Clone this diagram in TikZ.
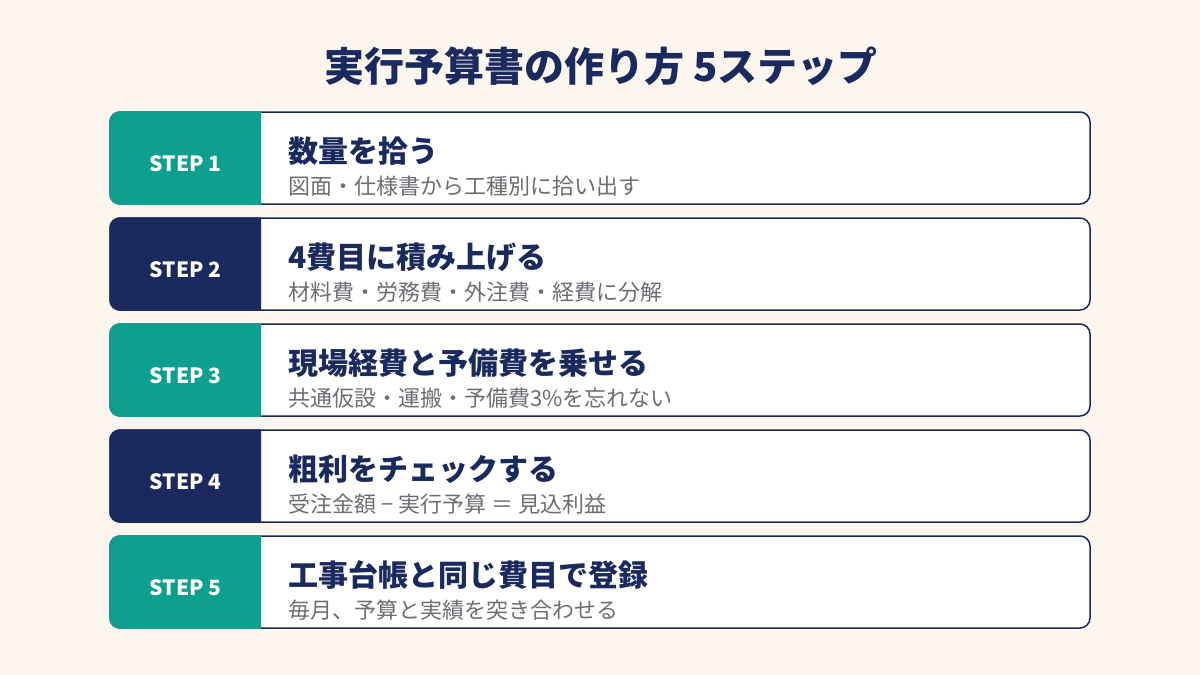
\documentclass[tikz,border=0pt]{standalone}
\usepackage{fontspec}
\setmainfont{Noto Sans CJK JP}
\definecolor{bgc}{HTML}{FDF6EE}
\definecolor{navy}{HTML}{1B2A5E}
\definecolor{tealc}{HTML}{0EA08F}
\definecolor{subg}{HTML}{6B6E73}
\tikzset{
 card/.style={draw=navy, line width=1.5pt, fill=white, rounded corners=10pt, minimum width=980pt, minimum height=92pt, inner sep=0pt, outer sep=0pt},
 steplabel/.style={anchor=base, text=white, font=\bfseries\fontsize{21}{25}\selectfont, inner sep=0pt},
 headtxt/.style={anchor=base west, text=navy, font=\bfseries\fontsize{30}{35}\selectfont, inner sep=0pt},
 subtxt/.style={anchor=base west, text=subg, font=\fontsize{22}{26}\selectfont, inner sep=0pt},
 titletxt/.style={anchor=base, text=navy, font=\bfseries\fontsize{40}{46}\selectfont, inner sep=0pt},
}
\begin{document}
\begin{tikzpicture}[x=1pt,y=-1pt]
\fill[bgc] (0,0) rectangle (1200,675);
\useasboundingbox (0,0) rectangle (1200,675);
\node[titletxt] (title) at (601,81) {実行予算書の作り方 5ステップ};
\foreach \i/\col/\head/\sub in {
 1/tealc/数量を拾う/図面・仕様書から工種別に拾い出す,
 2/navy/4費目に積み上げる/材料費・労務費・外注費・経費に分解,
 3/tealc/現場経費と予備費を乗せる/共通仮設・運搬・予備費3\%を忘れない,
 4/navy/粗利をチェックする/受注金額 − 実行予算 ＝ 見込利益,
 5/tealc/工事台帳と同じ費目で登録/毎月、予算と実績を突き合わせる}{
  \pgfmathsetmacro\cy{158+106*(\i-1)}
  \node[card] (card\i) at (600,\cy) {};
  \begin{scope}
   \clip (100,\cy-52) rectangle (261,\cy+52);
   \filldraw[fill=\col,draw=\col,line width=1.5pt,rounded corners=10pt] (card\i.north west) rectangle (card\i.south east);
  \end{scope}
  \node[steplabel] (lab\i) at (185.5,\cy+13) {STEP \i};
  \node[headtxt] (head\i) at (288,\cy+4) {\head};
  \node[subtxt] (sub\i) at (288,\cy+36) {\sub};
}
\end{tikzpicture}
\end{document}
